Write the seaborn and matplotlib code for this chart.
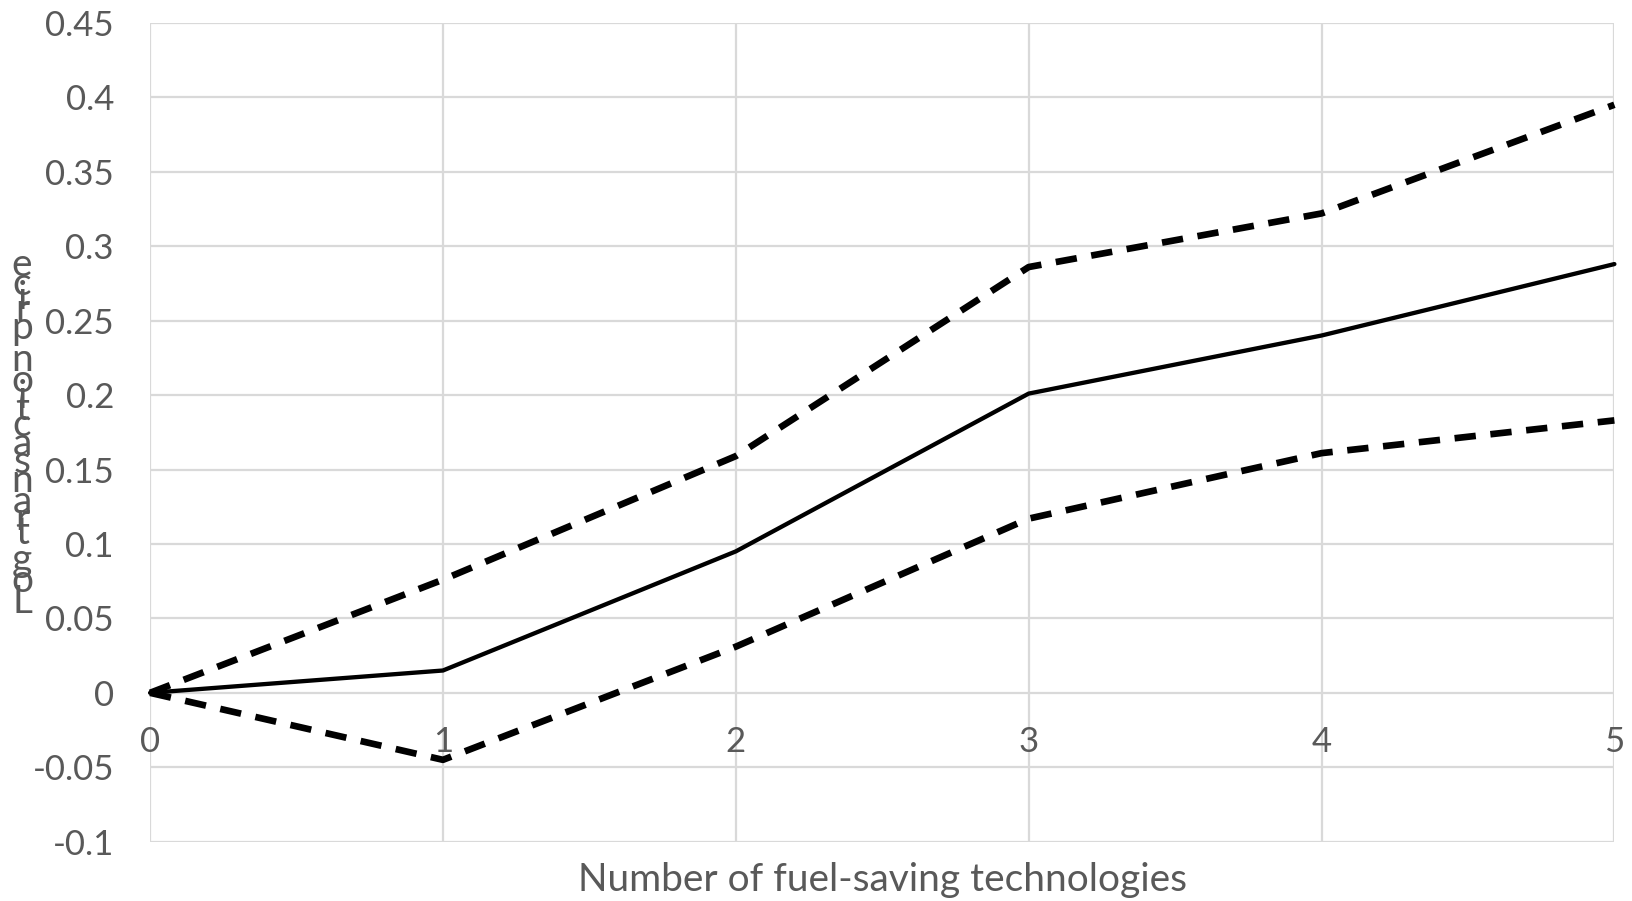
import numpy as np
import pandas as pd
import matplotlib
matplotlib.use('Agg')
import matplotlib.pyplot as plt
import seaborn as sns

# Dados
n_tech = [0, 1, 2, 3, 4, 5]
estimate = [0.0, 0.015, 0.095, 0.201, 0.240, 0.288]
upper = [0.0, 0.076, 0.159, 0.286, 0.322, 0.395]
lower = [0.0, -0.045, 0.031, 0.117, 0.161, 0.183]
y_ticks = [-0.1, -0.05, 0, 0.05, 0.1, 0.15, 0.2, 0.25, 0.3, 0.35, 0.4, 0.45]
x_label = 'Number of fuel-saving technologies'
y_label = 'Log transaction price'

sns.set_style('whitegrid')
plt.rcParams['font.family'] = ['Lato', 'DejaVu Sans']

grey = '#595959'
fs = 25

fig = plt.figure(figsize=(16.33, 9.01), dpi=100)
ax = fig.add_axes([0.0919, 0.0658, 0.9886 - 0.0919, 0.9746 - 0.0658])

df = pd.DataFrame({'x': n_tech, 'estimate': estimate, 'upper': upper, 'lower': lower})

sns.lineplot(data=df, x='x', y='estimate', color='black', lw=3.1, ax=ax, clip_on=False)
sns.lineplot(data=df, x='x', y='upper', color='black', lw=4.8, ax=ax, clip_on=False)
sns.lineplot(data=df, x='x', y='lower', color='black', lw=4.8, ax=ax, clip_on=False)
for line in ax.lines[1:]:
    line.set_dashes((3.2, 2.2))

ax.set_xlim(0, 5)
ax.set_ylim(-0.1, 0.45)
ax.set_yticks(y_ticks)
ax.set_yticklabels(['{:g}'.format(v) for v in y_ticks])
ax.set_xticks(n_tech)

for s in ax.spines.values():
    s.set_visible(False)
ax.spines['bottom'].set_position(('data', 0))
ax.grid(True, color='#d9d9d9', lw=1.6)
ax.set_axisbelow(True)
ax.tick_params(axis='y', length=0, pad=26, labelsize=fs, labelcolor=grey)
ax.tick_params(axis='x', length=0, pad=24, labelsize=fs, labelcolor=grey)
ax.set_xlabel('')
ax.set_ylabel('')

fig.text(0.5405, 0.0235, x_label, ha='center', va='center', fontsize=28, color=grey)

# rótulo do eixo y: letras de pé, empilhadas de baixo para cima
fs_y = 28
fig.canvas.draw()
renderer = fig.canvas.get_renderer()
fp = matplotlib.font_manager.FontProperties(family=['Lato', 'DejaVu Sans'], size=fs_y)
def adv(ch):
    if ch == ' ':
        w1 = renderer.get_text_width_height_descent('a a', fp, ismath=False)[0]
        w2 = renderer.get_text_width_height_descent('aa', fp, ismath=False)[0]
        return w1 - w2
    return renderer.get_text_width_height_descent(ch, fp, ismath=False)[0]
y_px = 901 - 612
for ch in y_label:
    w = adv(ch)
    fig.text(22 / 1633, (y_px + w / 2) / 901, ch, ha='center', va='center',
             fontsize=fs_y, color=grey, family=['Lato', 'DejaVu Sans'])
    y_px += w

fig.savefig('out.png', dpi=100)
